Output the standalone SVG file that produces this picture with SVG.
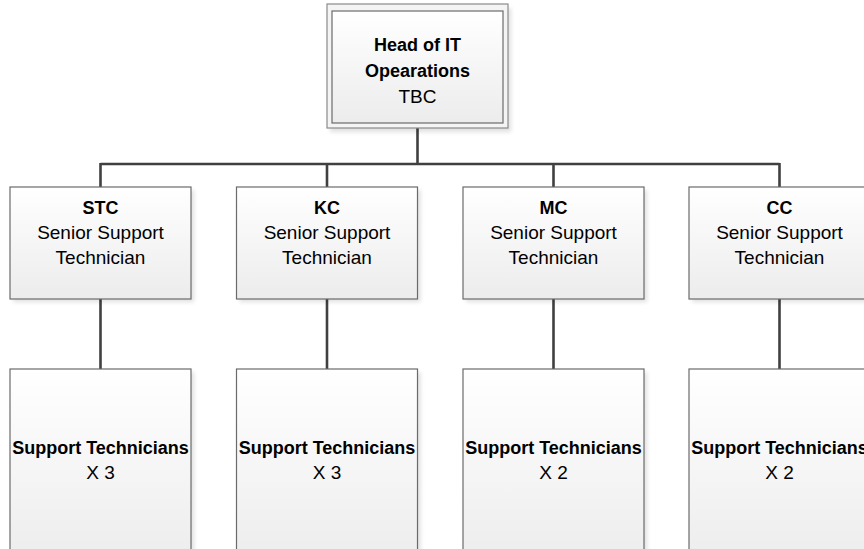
<svg xmlns="http://www.w3.org/2000/svg" width="864" height="549" viewBox="0 0 864 549">
<defs>
<linearGradient id="g" x1="0" y1="0" x2="0" y2="1">
<stop offset="0" stop-color="#ffffff"/>
<stop offset="1" stop-color="#ececec"/>
</linearGradient>
<filter id="sh" x="-10%" y="-10%" width="130%" height="130%">
<feGaussianBlur stdDeviation="2"/>
</filter>
<style>
.shadow{fill:#000;opacity:0.12;filter:url(#sh)}
.box{fill:url(#g);stroke:#6b6b6b;stroke-width:1.2}
.outer{fill:#f4f4f4;stroke:#8a8a8a;stroke-width:1.2}
.conn{fill:none;stroke:#404040;stroke-width:2.6}
text{font-family:"Liberation Sans",Arial,sans-serif;fill:#000;text-anchor:middle}
.b{font-weight:bold;font-size:18px}
.r{font-size:19px}
</style>
</defs>
<rect width="864" height="549" fill="#ffffff"/>
<g id="connectors">
<path class="conn" d="M417.5 128 V164 M100.5 164 H779.5 M100.5 163 V187 M327 163 V187 M553.5 163 V187 M779.5 163 V187"/>
<path class="conn" d="M100.5 299 V369 M327 299 V369 M553.5 299 V369 M779.5 299 V369"/>
</g>
<g id="head">
<rect class="shadow" x="330" y="8" width="181" height="124"/>
<rect class="outer" x="327" y="4" width="181" height="124"/>
<rect class="box" x="332" y="11" width="171" height="112"/>
<text class="b" x="417.5" y="51">Head of IT</text>
<text class="b" x="417.5" y="77">Opearations</text>
<text class="r" x="417.5" y="103">TBC</text>
</g>
<g id="stc">
<rect class="shadow" x="13" y="190" width="181" height="112"/>
<rect class="box" x="10" y="187" width="181" height="112"/>
<text class="b" x="100.5" y="214">STC</text>
<text class="r" x="100.5" y="239">Senior Support</text>
<text class="r" x="100.5" y="264">Technician</text>
</g>
<g id="kc">
<rect class="shadow" x="239.5" y="190" width="181" height="112"/>
<rect class="box" x="236.5" y="187" width="181" height="112"/>
<text class="b" x="327" y="214">KC</text>
<text class="r" x="327" y="239">Senior Support</text>
<text class="r" x="327" y="264">Technician</text>
</g>
<g id="mc">
<rect class="shadow" x="466" y="190" width="181" height="112"/>
<rect class="box" x="463" y="187" width="181" height="112"/>
<text class="b" x="553.5" y="214">MC</text>
<text class="r" x="553.5" y="239">Senior Support</text>
<text class="r" x="553.5" y="264">Technician</text>
</g>
<g id="cc">
<rect class="shadow" x="692" y="190" width="181" height="112"/>
<rect class="box" x="689" y="187" width="181" height="112"/>
<text class="b" x="779.5" y="214">CC</text>
<text class="r" x="779.5" y="239">Senior Support</text>
<text class="r" x="779.5" y="264">Technician</text>
</g>
<g id="stc-team">
<rect class="shadow" x="13" y="372" width="181" height="200"/>
<rect class="box" x="10" y="369" width="181" height="200"/>
<text class="b" x="100.5" y="454">Support Technicians</text>
<text class="r" x="100.5" y="479">X 3</text>
</g>
<g id="kc-team">
<rect class="shadow" x="239.5" y="372" width="181" height="200"/>
<rect class="box" x="236.5" y="369" width="181" height="200"/>
<text class="b" x="327" y="454">Support Technicians</text>
<text class="r" x="327" y="479">X 3</text>
</g>
<g id="mc-team">
<rect class="shadow" x="466" y="372" width="181" height="200"/>
<rect class="box" x="463" y="369" width="181" height="200"/>
<text class="b" x="553.5" y="454">Support Technicians</text>
<text class="r" x="553.5" y="479">X 2</text>
</g>
<g id="cc-team">
<rect class="shadow" x="692" y="372" width="181" height="200"/>
<rect class="box" x="689" y="369" width="181" height="200"/>
<text class="b" x="779.5" y="454">Support Technicians</text>
<text class="r" x="779.5" y="479">X 2</text>
</g>
</svg>
